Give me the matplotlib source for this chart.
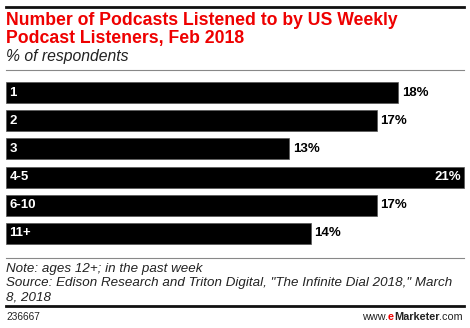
import matplotlib
matplotlib.use("Agg")
import matplotlib.pyplot as plt
from matplotlib.lines import Line2D

categories = ["1", "2", "3", "4-5", "6-10", "11+"]
values = [18, 17, 13, 21, 17, 14]
value_labels = ["18%", "17%", "13%", "21%", "17%", "14%"]

title_lines = ["Number of Podcasts Listened to by US Weekly", "Podcast Listeners, Feb 2018"]
subtitle = "% of respondents"
note_lines = ["Note: ages 12+; in the past week",
              "Source: Edison Research and Triton Digital, \"The Infinite Dial 2018,\" March",
              "8, 2018"]
chart_id = "236667"

W, H = 470, 328
fig = plt.figure(figsize=(W / 100, H / 100), dpi=100)
plt.rcParams['font.family'] = ['Liberation Sans', 'DejaVu Sans']

def fx(px):
    return px / W

def fy(py):
    return 1 - py / H

# axes
ax_left, ax_right = 6, 465
ax_top, ax_bot = 78.4, 247.6
ax = fig.add_axes([fx(ax_left), fy(ax_bot), fx(ax_right - ax_left), (ax_bot - ax_top) / H])
ypos = list(range(len(categories)))
ax.barh(ypos, values, height=0.75, color="black", edgecolor="#555555", linewidth=0.5)
ax.set_xlim(0, 21.05)
ax.set_ylim(len(categories) - 0.5, -0.5)
ax.axis("off")
for i, (c, v, lab) in enumerate(zip(categories, values, value_labels)):
    ax.text(0.15, i, c, color="white", fontweight="bold", fontsize=9.5, va="center", ha="left")
    if v == max(values):
        ax.text(v - 0.15, i, lab, color="white", fontweight="bold", fontsize=9.5, va="center", ha="right")
    else:
        ax.text(v + 0.15, i, lab, color="black", fontweight="bold", fontsize=9.5, va="center", ha="left")

# lines
def hline(py, color, lw):
    fig.add_artist(Line2D([fx(6), fx(464)], [fy(py), fy(py)], color=color, lw=lw, transform=fig.transFigure))

hline(6.5, "#111111", 2.0)
hline(69.5, "#888888", 0.8)
hline(258, "#888888", 0.8)
hline(305.5, "#111111", 2.0)

red = "#ee0000"
for k, line in enumerate(title_lines):
    fig.text(fx(6), fy(25 + 18.5 * k), line, color=red, fontweight="bold", fontsize=12.7,
             va="baseline", ha="left")
fig.text(fx(6), fy(61), subtitle, color="#222222", fontstyle="italic", fontsize=11.3, va="baseline", ha="left")
for k, line in enumerate(note_lines):
    fig.text(fx(6), fy(272 + 14 * k), line, color="#222222", fontstyle="italic", fontsize=9.65,
             va="baseline", ha="left")
fig.text(fx(6), fy(320), chart_id, color="#222222", fontsize=7.3, va="baseline", ha="left")
t0 = fig.text(fx(463), fy(320), "www.", color="#222222", fontsize=7.8, va="baseline", ha="right")
t1 = fig.text(fx(463), fy(320), ".com", color="#222222", fontsize=7.8, va="baseline", ha="right")
fig.canvas.draw()
r = fig.canvas.get_renderer()
bb = t1.get_window_extent(r)
t2 = fig.text(bb.x0 / W, fy(320), "Marketer", color="#222222", fontsize=7.8, fontweight="bold", va="baseline", ha="right")
bb2 = t2.get_window_extent(r)
t3 = fig.text(bb2.x0 / W, fy(320), "e", color=red, fontsize=7.8, fontweight="bold", va="baseline", ha="right")
bb3 = t3.get_window_extent(r)
t0.set_x(bb3.x0 / W)

fig.savefig("out.png", dpi=100)
